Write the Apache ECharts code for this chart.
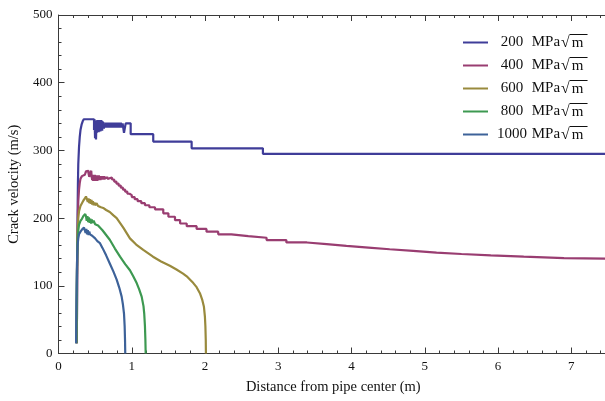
<!DOCTYPE html>
<html>
<head>
<meta charset="utf-8">
<script src="https://cdn.jsdelivr.net/npm/echarts@6/dist/echarts.min.js"></script>
<style>
  html, body { margin: 0; padding: 0; background: #fff; }
  #chart { width: 605px; height: 401px; }
</style>
</head>
<body>
<div id="chart"></div>
<script>
// Crack velocity vs. distance from the pipe centre, for five fracture toughness levels.
const toughness = ['200', '400', '600', '800', '1000'];
const colors = ['#3f3d99', '#993d71', '#998a3d', '#3d9951', '#3d6299'];

// 200 MPa√m (stepwise: each value holds until the next distance)
const dist200 = [0.250, 0.255, 0.260, 0.265, 0.270, 0.280, 0.290, 0.300, 0.315, 0.330, 0.345,
  0.485, 0.492, 0.499, 0.506, 0.512, 0.518, 0.524, 0.530, 0.536, 0.542, 0.548, 0.554, 0.560,
  0.566, 0.572, 0.578, 0.584, 0.590, 0.596, 0.602, 0.608, 0.614, 0.620,
  0.626, 0.640, 0.650, 0.665, 0.675, 0.690, 0.700, 0.715, 0.725, 0.740, 0.750, 0.765, 0.775,
  0.790, 0.800, 0.815, 0.825, 0.840, 0.850, 0.865, 0.875, 0.894, 0.917, 0.985, 1.293, 1.817, 2.790, 7.5];
const vel200 = [15, 120, 200, 250, 280, 305, 320, 330, 338, 343, 346,
  330, 346, 318, 344, 316, 340, 326, 345, 328, 344, 327, 345, 330,
  344, 328, 345, 331, 344, 329, 343, 333, 342, 332,
  340, 334, 341, 334, 341, 334, 341, 334, 341, 334, 341, 334, 341,
  334, 341, 334, 341, 334, 341, 334, 340, 326, 340, 324, 313, 303, 295, 295];

// 400 MPa√m (stepwise)
const dist400 = [0.250, 0.255, 0.260, 0.265, 0.270, 0.280, 0.290, 0.300, 0.320, 0.340, 0.360, 0.375,
  0.385, 0.400, 0.410, 0.420, 0.430, 0.447, 0.452,
  0.460, 0.467, 0.474, 0.481, 0.488, 0.495, 0.502, 0.509, 0.516, 0.523, 0.530, 0.537, 0.544,
  0.551, 0.558, 0.565, 0.572, 0.579, 0.586, 0.593, 0.600, 0.607, 0.614, 0.621, 0.628, 0.635,
  0.642, 0.649, 0.656, 0.663, 0.670, 0.677,
  0.690, 0.730, 0.760, 0.790, 0.820, 0.850, 0.880, 0.910, 0.940, 0.970, 1.000, 1.040, 1.080,
  1.130, 1.180, 1.240, 1.317, 1.430, 1.500, 1.590, 1.660, 1.750, 1.885, 2.020, 2.180, 2.360,
  2.590, 2.840, 3.110, 3.390, 3.660, 3.930, 4.230, 4.520, 4.840, 5.160, 5.500, 5.900, 6.350,
  6.900, 7.5];
const vel400 = [15, 110, 170, 205, 225, 242, 252, 258, 262, 264, 266, 269,
  271, 270, 266, 261, 259, 270, 262,
  256, 264, 255, 263, 256, 264, 255, 263, 256, 263, 255, 262, 256,
  263, 256, 262, 256, 262, 257, 262, 257, 262, 258, 262, 257, 261,
  258, 261, 258, 261, 258, 260,
  260, 257, 254, 251, 248, 245, 242, 239, 236, 234, 231, 228, 225,
  222, 219, 216, 213, 207, 202, 197, 192, 188, 184, 180, 176, 173.5,
  171, 167.5, 164, 161.5, 159, 156.5, 154, 151.5, 149, 147, 145, 143, 141,
  140, 140];

// 600 MPa√m
const dist600 = [0.245, 0.250, 0.255, 0.260, 0.270, 0.280, 0.300, 0.320, 0.340, 0.360, 0.375,
  0.385, 0.395, 0.400, 0.410, 0.420, 0.430, 0.440, 0.450, 0.460, 0.470, 0.480, 0.490, 0.500,
  0.520, 0.540, 0.560, 0.580, 0.610, 0.650, 0.700, 0.750, 0.794, 0.884, 0.975, 1.060, 1.157,
  1.290, 1.400, 1.520, 1.610, 1.700, 1.750, 1.840, 1.885, 1.930, 1.960, 1.985, 1.998, 2.005,
  2.010, 2.012];
const vel600 = [15, 100, 150, 180, 200, 210, 218, 222, 226, 229, 232,
  233, 230, 224, 229, 222, 228, 221, 227, 220, 225, 219, 223, 219,
  222, 218, 220, 216, 215, 212, 209, 204, 200, 186, 170, 161, 153,
  143, 136, 129.5, 124, 118, 114, 104, 98, 89, 80, 69, 55, 40,
  20, 0];

// 800 MPa√m
const dist800 = [0.245, 0.250, 0.255, 0.260, 0.270, 0.280, 0.300, 0.320, 0.340, 0.355, 0.365,
  0.375, 0.385, 0.395, 0.405, 0.415, 0.425, 0.435, 0.445, 0.455, 0.465, 0.480, 0.500, 0.520,
  0.540, 0.566, 0.600, 0.650, 0.700, 0.770, 0.840, 0.910, 0.975, 1.020, 1.067, 1.100, 1.135,
  1.160, 1.170, 1.180, 1.186, 1.190];
const vel800 = [15, 95, 140, 165, 182, 190, 196, 199, 203, 205, 206,
  203, 196, 203, 194, 201, 193, 199, 192, 198, 193, 196, 191, 193,
  189, 187, 182, 175, 168, 155, 143, 132, 123, 114, 104, 95, 84,
  70, 59, 40, 20, 0];

// 1000 MPa√m
const dist1000 = [0.240, 0.245, 0.250, 0.255, 0.260, 0.270, 0.280, 0.300, 0.320, 0.335, 0.348,
  0.360, 0.370, 0.380, 0.390, 0.400, 0.410, 0.420, 0.430, 0.440, 0.460, 0.480, 0.500, 0.530,
  0.566, 0.600, 0.650, 0.700, 0.750, 0.794, 0.830, 0.862, 0.880, 0.894, 0.903, 0.908, 0.911];
const vel1000 = [15, 80, 120, 145, 160, 170, 176, 180, 183, 185, 186,
  184, 178, 184, 176, 182, 175, 180, 176, 178, 174, 172, 170, 166,
  163, 156, 145, 133, 121, 109, 97, 84, 72, 59, 40, 20, 0];

const distances = [dist200, dist400, dist600, dist800, dist1000];
const velocities = [vel200, vel400, vel600, vel800, vel1000];
const stepped = [true, true, false, false, false];

const serif = 'Liberation Serif';
const axisColor = '#3a3a3a';

const chart = echarts.init(document.getElementById('chart'), null, { renderer: 'canvas' });

// thin bar over the radicand of √m
const overline = new echarts.graphic.LinearGradient(0, 0, 0, 1, [
  { offset: 0, color: '#111' },
  { offset: 0.07, color: '#111' },
  { offset: 0.075, color: 'rgba(0,0,0,0)' },
  { offset: 1, color: 'rgba(0,0,0,0)' }
]);

const series = toughness.map((k, i) => ({
  name: k + ' MPa√m',
  type: 'line',
  xAxisIndex: 0,
  yAxisIndex: 0,
  step: stepped[i] ? 'end' : false,
  showSymbol: false,
  symbol: 'none',
  clip: true,
  lineStyle: { color: colors[i], width: 2.2 },
  itemStyle: { color: colors[i] },
  data: distances[i].map((d, j) => [d, velocities[i][j]])
}));

const sharedX = {
  type: 'value', min: 0, max: 7.5, interval: 1,
  axisLine: { show: true, lineStyle: { color: axisColor, width: 1 } },
  axisTick: { show: true, inside: true, length: 6, lineStyle: { color: axisColor } },
  minorTick: { show: true, splitNumber: 5, length: 3, lineStyle: { color: axisColor } },
  splitLine: { show: false }
};

chart.setOption({
  animation: false,
  backgroundColor: '#fff',
  grid: { left: 58.5, right: -3, top: 15, bottom: 47.5, containLabel: false, outerBoundsMode: 'none' },
  legend: {
    orient: 'vertical',
    left: 458,
    top: 29,
    itemWidth: 25,
    itemHeight: 2,
    itemGap: 6,
    icon: 'rect',
    data: series.map(s => s.name),
    formatter: name => {
      const num = name.split(' ')[0];
      return '{n|' + num + '}{u| MPa}{r|√}{m|m}';
    },
    textStyle: {
      fontFamily: serif,
      fontSize: 15,
      color: '#111',
      rich: {
        n: { fontFamily: serif, fontSize: 15, color: '#111', width: 32, align: 'right', padding: [0, 0, 0, 3] },
        u: { fontFamily: serif, fontSize: 15, color: '#111' },
        r: { fontFamily: serif, fontSize: 16, color: '#111', padding: [0, 0, 0, 1] },
        m: { fontFamily: serif, fontSize: 15, color: '#111', backgroundColor: overline, padding: [2, 4, 0, 2] }
      }
    }
  },
  xAxis: [
    Object.assign({}, sharedX, {
      position: 'bottom',
      name: 'Distance from pipe center (m)',
      nameLocation: 'middle',
      nameGap: 26,
      nameTextStyle: { fontFamily: serif, fontSize: 14.5, color: '#111' },
      axisLabel: { show: true, margin: 7, fontFamily: serif, fontSize: 13, color: '#111', showMaxLabel: false }
    }),
    Object.assign({}, sharedX, {
      position: 'top',
      axisLabel: { show: false }
    })
  ],
  yAxis: [{
    type: 'value', min: 0, max: 500, interval: 100,
    position: 'left',
    name: 'Crack velocity (m/s)',
    nameLocation: 'middle',
    nameGap: 31,
    nameTextStyle: { fontFamily: serif, fontSize: 14.5, color: '#111' },
    axisLine: { show: true, lineStyle: { color: axisColor, width: 1 } },
    axisTick: { show: true, inside: true, length: 6, lineStyle: { color: axisColor } },
    minorTick: { show: true, splitNumber: 5, length: 3, lineStyle: { color: axisColor } },
    splitLine: { show: false },
    axisLabel: { show: true, margin: 6, fontFamily: serif, fontSize: 13, color: '#111' }
  }],
  series: series
});
</script>
</body>
</html>
